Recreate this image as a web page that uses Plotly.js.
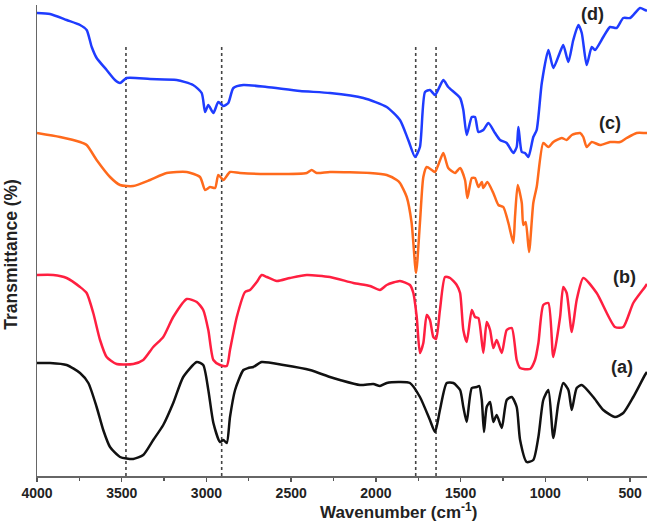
<!DOCTYPE html>
<html>
<head>
<meta charset="utf-8">
<script src="https://cdn.plot.ly/plotly-3.0.1.min.js"></script>
<style>html,body{margin:0;padding:0;background:#fff;}#chart{width:649px;height:523px;}</style>
</head>
<body>
<div id="chart"></div>
<script>
// Wavenumbers (cm^-1) and transmittance (arbitrary, offset units)
const waveD = [4000,3923,3825,3746,3707,3677,3648,3589,3540,3510,3471,3333,3176,3079,3028,3008,2989,2959,2930,2900,2871,2841,2782,2644,2448,2271,2074,1936,1858,1809,1769,1740,1710,1681,1651,1602,1573,1503,1484,1464,1434,1415,1395,1366,1336,1297,1267,1228,1189,1169,1159,1139,1120,1100,1071,1051,1021,982,953,913,894,864,835,805,785,756,726,707,658,618,579,540,500,441,412,400];
const transD = [463,462,456,451,446,429,418,406,396,393,398,397,396,391,383,364,371,363,374,370,373,388,391,389,385,383,378,369,356,336,319,329,384,386,381,396,389,378,366,341,359,359,344,346,353,343,336,333,323,329,349,324,323,319,339,346,393,426,408,424,431,414,436,451,443,411,429,426,439,449,448,458,458,468,466,465];

const waveC = [4000,3864,3746,3707,3648,3569,3510,3432,3333,3235,3116,3038,3008,2979,2949,2930,2900,2861,2802,2644,2408,2379,2349,2271,2035,1936,1877,1858,1818,1789,1763,1740,1720,1700,1670,1651,1632,1602,1573,1533,1503,1474,1460,1434,1415,1395,1375,1366,1342,1307,1277,1248,1218,1189,1179,1163,1139,1130,1116,1096,1071,1051,1012,982,953,903,874,844,795,776,756,726,677,618,559,520,461,412,400];
const transC = [343,339,334,331,316,299,291,290,296,303,304,299,286,289,288,301,296,304,303,302,303,306,303,304,303,301,296,293,279,253,203,253,299,309,306,304,311,323,308,303,308,296,278,298,298,289,294,288,294,283,271,269,253,233,259,291,273,251,254,224,273,289,333,329,334,338,336,341,343,339,329,334,331,334,334,338,343,343,343];

const waveB = [4000,3904,3825,3746,3707,3668,3628,3589,3530,3432,3373,3314,3255,3196,3116,3057,3019,2989,2959,2920,2880,2861,2821,2772,2743,2703,2674,2644,2585,2507,2408,2271,2133,2035,1976,1936,1858,1799,1779,1759,1740,1720,1700,1681,1661,1645,1622,1592,1562,1523,1503,1484,1464,1434,1415,1395,1366,1346,1326,1307,1287,1257,1228,1198,1169,1149,1090,1061,1041,1012,982,953,913,894,874,844,815,776,697,589,540,481,412,400];
const transB = [201,201,198,189,183,163,136,119,112,112,116,129,139,159,177,174,166,146,116,111,110,126,159,184,186,194,201,199,195,198,201,199,193,190,186,191,195,191,183,159,123,133,161,156,139,137,166,199,198,191,183,146,134,166,159,158,123,154,146,128,136,123,146,148,116,108,107,116,133,171,173,119,159,189,183,144,176,198,183,149,149,173,189,192];

const waveA = [4000,3923,3825,3746,3697,3648,3609,3569,3510,3432,3373,3314,3255,3196,3137,3057,3019,2989,2959,2920,2900,2880,2861,2831,2782,2753,2723,2674,2546,2389,2271,2212,2094,2015,1976,1936,1858,1799,1740,1681,1651,1622,1582,1543,1503,1484,1464,1434,1405,1390,1375,1362,1346,1326,1307,1287,1257,1228,1198,1169,1149,1110,1071,1041,1012,982,953,923,894,864,844,815,785,717,658,589,540,481,412,400];
const transA = [113,113,111,103,93,69,46,29,19,17,21,36,51,73,99,114,111,86,53,34,36,33,59,86,106,108,109,114,111,106,99,96,91,92,90,93,94,93,79,56,44,66,93,93,86,69,54,88,89,90,76,44,69,74,54,61,48,76,79,69,36,14,16,39,76,86,38,73,93,86,66,88,91,79,66,59,63,79,101,104];

const seriesLabels = ['(a)', '(b)', '(c)', '(d)'];
const labelWave = [549, 530, 618, 719];
const labelTrans = [109, 199, 353, 462];
const markerWaves = [3475, 2910, 1765, 1645];
const markerTop = 431;
const xTickVals = [4000, 3500, 3000, 2500, 2000, 1500, 1000, 500];

const colors = ['#111111', '#ff1f40', '#ff6a1c', '#1f3cff'];
const waves = [waveA, waveB, waveC, waveD];
const trans = [transA, transB, transC, transD];

const traces = waves.map((w, i) => ({
  x: w, y: trans[i], type: 'scatter', mode: 'lines',
  line: {color: colors[i], width: 2.5, shape: 'spline', smoothing: 0.6},
  hoverinfo: 'skip', showlegend: false
}));

const shapes = markerWaves.map(w => ({
  type: 'line', xref: 'x', yref: 'y', x0: w, x1: w, y0: 0, y1: markerTop,
  line: {color: '#444', width: 1.6, dash: 'dot'}, layer: 'below'
}));

const font = 'Liberation Sans, Arial, sans-serif';
const annotations = seriesLabels.map((t, i) => ({
  x: labelWave[i], y: labelTrans[i], xref: 'x', yref: 'y', text: '<b>' + t + '</b>',
  showarrow: false, font: {family: font, size: 18, color: '#222'}
}));
annotations.push({
  xref: 'paper', yref: 'paper', x: 0.592, y: -0.074, xanchor: 'center', yanchor: 'middle',
  text: '<b>Wavenumber (cm<sup>-1</sup>)</b>', showarrow: false,
  font: {family: font, size: 17, color: '#222'}
});
annotations.push({
  xref: 'paper', yref: 'paper', x: -0.044, y: 0.47, xanchor: 'center', yanchor: 'middle', textangle: -90,
  text: '<b>Transmittance (%)</b>', showarrow: false,
  font: {family: font, size: 17.5, color: '#222'}
});

const layout = {
  width: 649, height: 523,
  margin: {l: 37, r: 2, t: 5, b: 47},
  paper_bgcolor: '#fff', plot_bgcolor: '#fff',
  xaxis: {
    range: [4000, 400], tickvals: xTickVals, ticks: 'outside', ticklen: 4, tickwidth: 1.5,
    tickcolor: '#555', showline: true, linecolor: '#666', linewidth: 1.5,
    showgrid: false, zeroline: false,
    tickfont: {family: font, size: 14, color: '#222', weight: 'bold'},
    minor: {dtick: 250, ticks: 'outside', ticklen: 3, tickwidth: 1.2, tickcolor: '#555', showgrid: false}
  },
  yaxis: {
    range: [0, 471], showticklabels: false, ticks: '', showline: true, linecolor: '#666',
    linewidth: 1.5, showgrid: false, zeroline: false
  },
  shapes: shapes,
  annotations: annotations,
  hovermode: false
};

Plotly.newPlot('chart', traces, layout, {displayModeBar: false, staticPlot: true});
</script>
</body>
</html>
